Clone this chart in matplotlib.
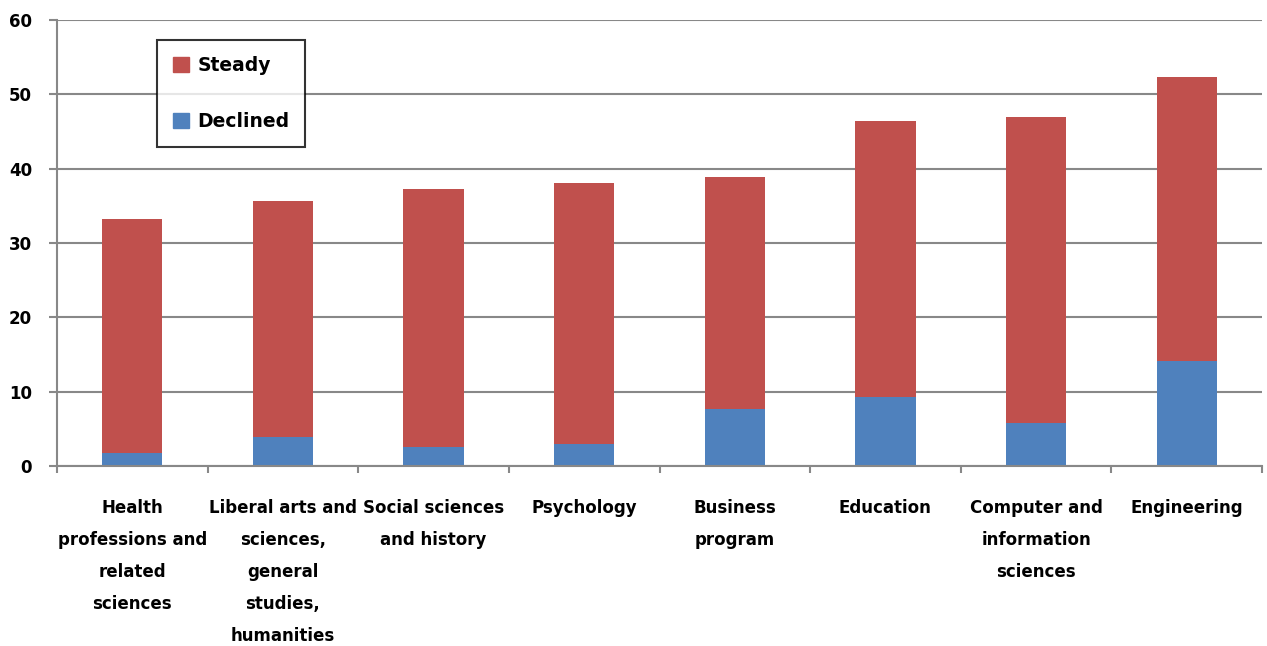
import matplotlib
matplotlib.use("Agg")
import matplotlib.pyplot as plt
import numpy as np
from matplotlib.patches import Patch

categories = ["Health\nprofessions and\nrelated\nsciences",
              "Liberal arts and\nsciences,\ngeneral\nstudies,\nhumanities",
              "Social sciences\nand history",
              "Psychology",
              "Business\nprogram",
              "Education",
              "Computer and\ninformation\nsciences",
              "Engineering"]
totals = [33.2, 35.6, 37.25, 38.05, 38.85, 46.4, 46.9, 52.3]
declined = [1.75, 3.95, 2.55, 2.9, 7.65, 9.3, 5.85, 14.1]
steady = [t - d for t, d in zip(totals, declined)]
yticks = [0, 10, 20, 30, 40, 50, 60]

plt.rcParams['font.family'] = ['DejaVu Sans']
plt.rcParams['font.weight'] = 'bold'

fig = plt.figure(figsize=(12.67, 6.46), dpi=100)
ax = fig.add_axes([57/1267, 1 - 466/646, (1262-57)/1267, (466-20)/646])

x = np.arange(len(categories))
blue = '#4F81BD'
red = '#C0504D'
ax.bar(x, declined, width=0.4, color=blue, zorder=3)
ax.bar(x, steady, width=0.4, bottom=declined, color=red, zorder=3)

ax.set_xlim(-0.5, len(categories) - 0.5)
ax.set_ylim(0, 60)
ax.set_yticks(yticks)
ax.set_yticklabels([str(v) for v in yticks], fontsize=12, fontweight='bold')
ax.yaxis.grid(True, color='#888888', linewidth=1.5, zorder=0)
ax.tick_params(axis='y', length=6, width=1.5, color='#888888', pad=12)

ax.set_xticks(x)
ax.set_xticklabels(categories, fontsize=12, fontweight='bold', linespacing=2.0)
ax.set_xticks(np.arange(-0.5, len(categories)), minor=True)
ax.tick_params(axis='x', which='major', length=0, pad=24)
ax.tick_params(axis='x', which='minor', length=5, width=1.5, color='#888888')

for s in ['top', 'right']:
    ax.spines[s].set_visible(False)
for s in ['left', 'bottom']:
    ax.spines[s].set_color('#888888')
    ax.spines[s].set_linewidth(1.5)
ax.spines['bottom'].set_zorder(4)

handles = [Patch(color=red, label='Steady'), Patch(color=blue, label='Declined')]
leg = ax.legend(handles=handles, loc='upper left', bbox_to_anchor=((157-57)/1205, (466-40)/446),
                frameon=True, fancybox=False, edgecolor='black',
                prop={'weight': 'bold', 'size': 13.5}, labelspacing=2.0,
                handlelength=0.85, handleheight=0.85, handletextpad=0.45,
                borderpad=0.85, borderaxespad=0)
leg.get_frame().set_linewidth(1.5)

fig.savefig("out.png", dpi=100)
